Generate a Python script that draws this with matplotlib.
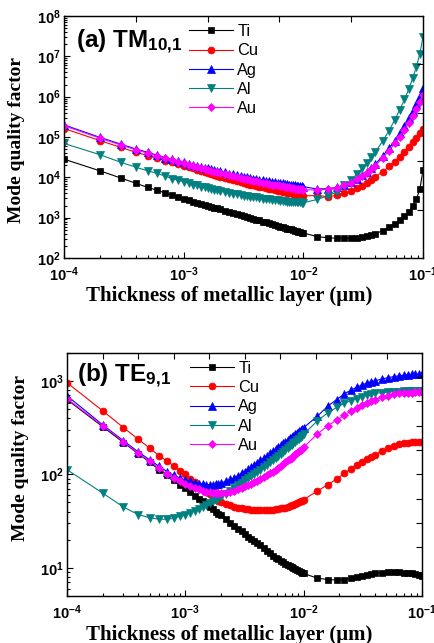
import matplotlib
matplotlib.use("Agg")
import matplotlib.pyplot as plt
import numpy as np
from matplotlib.ticker import FuncFormatter, NullFormatter, LogLocator

plt.rcParams['font.family'] = 'Liberation Sans'
plt.rcParams['mathtext.fontset'] = 'custom'
plt.rcParams['mathtext.rm'] = 'Liberation Sans'
plt.rcParams['mathtext.bf'] = 'Liberation Sans:bold'
plt.rcParams['mathtext.default'] = 'bf'

# thickness of the metallic layer (um), same sampling for both panels
thickness = [0.0001, 0.0002, 0.0003, 0.0004, 0.0005, 0.0006, 0.0007, 0.0008, 0.0009, 0.0010,
             0.0011, 0.0012, 0.0013, 0.0014, 0.0015, 0.0016, 0.0017, 0.0018, 0.0019, 0.0020,
             0.0022, 0.0024, 0.0026, 0.0028, 0.0030, 0.0032, 0.0034, 0.0036, 0.0038, 0.0040,
             0.0043, 0.0046, 0.0049, 0.0052, 0.0055, 0.0058, 0.0061, 0.0064, 0.0067, 0.0070,
             0.0073, 0.0076, 0.0079, 0.0082, 0.0085, 0.0088, 0.0091, 0.0094, 0.0097, 0.0100,
             0.013, 0.016, 0.019, 0.022, 0.025, 0.028, 0.031, 0.034, 0.037, 0.040,
             0.046, 0.052, 0.058, 0.064, 0.070, 0.076, 0.082, 0.088, 0.094, 0.100]

# log10 of the mode quality factor, (a) TM10,1
ti_tm = [4.45, 4.16, 3.98, 3.85, 3.75, 3.68, 3.61, 3.56, 3.51, 3.46,
         3.43, 3.39, 3.36, 3.34, 3.31, 3.29, 3.27, 3.25, 3.23, 3.21,
         3.17, 3.14, 3.11, 3.08, 3.06, 3.04, 3.01, 2.99, 2.97, 2.95,
         2.93, 2.90, 2.88, 2.86, 2.84, 2.82, 2.80, 2.78, 2.77, 2.75,
         2.73, 2.72, 2.71, 2.69, 2.68, 2.67, 2.65, 2.64, 2.63, 2.62,
         2.53, 2.50, 2.49, 2.49, 2.49, 2.50, 2.52, 2.54, 2.57, 2.60,
         2.68, 2.76, 2.84, 2.93, 3.03, 3.15, 3.29, 3.46, 3.70, 4.18]
cu_tm = [5.21, 4.91, 4.74, 4.62, 4.54, 4.47, 4.41, 4.37, 4.33, 4.29,
         4.25, 4.22, 4.18, 4.16, 4.13, 4.10, 4.08, 4.06, 4.04, 4.02,
         3.99, 3.96, 3.93, 3.91, 3.88, 3.86, 3.84, 3.82, 3.81, 3.79,
         3.77, 3.75, 3.73, 3.71, 3.70, 3.68, 3.67, 3.65, 3.64, 3.63,
         3.62, 3.61, 3.60, 3.59, 3.58, 3.57, 3.56, 3.56, 3.55, 3.54,
         3.55, 3.52, 3.55, 3.60, 3.67, 3.73, 3.79, 3.86, 3.94, 4.01,
         4.14, 4.27, 4.39, 4.51, 4.63, 4.75, 4.87, 4.98, 5.09, 5.20]
ag_tm = [5.30, 4.99, 4.82, 4.70, 4.62, 4.55, 4.49, 4.45, 4.41, 4.37,
         4.34, 4.31, 4.28, 4.26, 4.24, 4.22, 4.20, 4.18, 4.16, 4.15,
         4.12, 4.09, 4.07, 4.05, 4.03, 4.02, 4.00, 3.99, 3.97, 3.96,
         3.94, 3.93, 3.91, 3.90, 3.89, 3.88, 3.87, 3.86, 3.85, 3.84,
         3.83, 3.82, 3.81, 3.81, 3.80, 3.79, 3.79, 3.78, 3.78, 3.77,
         3.71, 3.72, 3.75, 3.82, 3.89, 3.97, 4.06, 4.14, 4.23, 4.33,
         4.53, 4.72, 4.91, 5.10, 5.28, 5.46, 5.65, 5.83, 6.01, 6.22]
al_tm = [4.84, 4.56, 4.37, 4.25, 4.16, 4.10, 4.03, 3.97, 3.93, 3.89,
         3.86, 3.82, 3.80, 3.77, 3.75, 3.73, 3.71, 3.69, 3.68, 3.66,
         3.64, 3.61, 3.59, 3.58, 3.56, 3.54, 3.53, 3.52, 3.51, 3.50,
         3.48, 3.47, 3.46, 3.45, 3.44, 3.43, 3.43, 3.42, 3.41, 3.41,
         3.40, 3.40, 3.39, 3.39, 3.39, 3.38, 3.38, 3.38, 3.37, 3.37,
         3.45, 3.54, 3.64, 3.80, 3.93, 4.08, 4.22, 4.36, 4.50, 4.63,
         4.90, 5.16, 5.42, 5.68, 5.93, 6.19, 6.46, 6.74, 7.06, 7.48]
au_tm = [5.28, 4.97, 4.80, 4.68, 4.60, 4.53, 4.47, 4.43, 4.39, 4.35,
         4.31, 4.28, 4.25, 4.23, 4.20, 4.18, 4.16, 4.14, 4.13, 4.11,
         4.08, 4.05, 4.03, 4.01, 3.99, 3.97, 3.95, 3.93, 3.92, 3.90,
         3.89, 3.87, 3.85, 3.84, 3.82, 3.81, 3.80, 3.79, 3.78, 3.77,
         3.76, 3.75, 3.74, 3.73, 3.72, 3.72, 3.71, 3.70, 3.70, 3.69,
         3.69, 3.70, 3.73, 3.80, 3.87, 3.95, 4.03, 4.11, 4.20, 4.29,
         4.48, 4.66, 4.84, 5.01, 5.18, 5.35, 5.52, 5.69, 5.86, 6.05]

# log10 of the mode quality factor, (b) TE9,1
ti_te = [2.80, 2.51, 2.34, 2.22, 2.13, 2.05, 1.99, 1.94, 1.89, 1.85,
         1.81, 1.77, 1.74, 1.71, 1.68, 1.65, 1.63, 1.60, 1.58, 1.56,
         1.52, 1.48, 1.45, 1.42, 1.39, 1.36, 1.33, 1.31, 1.29, 1.27,
         1.24, 1.21, 1.18, 1.16, 1.13, 1.11, 1.09, 1.07, 1.06, 1.04,
         1.03, 1.02, 1.01, 0.995, 0.985, 0.975, 0.965, 0.955, 0.945, 0.94,
         0.89, 0.875, 0.87, 0.875, 0.89, 0.905, 0.915, 0.925, 0.935, 0.94,
         0.95, 0.955, 0.955, 0.955, 0.95, 0.945, 0.94, 0.93, 0.92, 0.91]
cu_te = [2.98, 2.68, 2.50, 2.375, 2.28, 2.20, 2.14, 2.09, 2.04, 2.00,
         1.955, 1.915, 1.875, 1.84, 1.81, 1.785, 1.76, 1.74, 1.72, 1.705,
         1.685, 1.67, 1.655, 1.645, 1.635, 1.63, 1.625, 1.62, 1.62, 1.615,
         1.615, 1.615, 1.615, 1.62, 1.62, 1.625, 1.63, 1.635, 1.64, 1.645,
         1.655, 1.66, 1.67, 1.675, 1.685, 1.69, 1.70, 1.71, 1.72, 1.73,
         1.82, 1.89, 1.95, 2.01, 2.06, 2.10, 2.13, 2.16, 2.19, 2.21,
         2.25, 2.28, 2.30, 2.32, 2.33, 2.34, 2.345, 2.35, 2.35, 2.35]
ag_te = [2.84, 2.53, 2.36, 2.24, 2.155, 2.085, 2.03, 1.99, 1.96, 1.94,
         1.925, 1.91, 1.90, 1.895, 1.89, 1.89, 1.89, 1.895, 1.90, 1.91,
         1.925, 1.945, 1.965, 1.985, 2.01, 2.03, 2.055, 2.075, 2.10, 2.12,
         2.15, 2.175, 2.20, 2.225, 2.25, 2.27, 2.29, 2.31, 2.33, 2.35,
         2.37, 2.385, 2.40, 2.415, 2.43, 2.445, 2.46, 2.47, 2.485, 2.50,
         2.62, 2.73, 2.80, 2.86, 2.90, 2.93, 2.955, 2.975, 2.99, 3.00,
         3.02, 3.035, 3.045, 3.055, 3.06, 3.065, 3.07, 3.07, 3.07, 3.07]
al_te = [2.05, 1.80, 1.65, 1.57, 1.535, 1.52, 1.52, 1.53, 1.55, 1.57,
         1.59, 1.61, 1.63, 1.65, 1.67, 1.69, 1.71, 1.73, 1.745, 1.76,
         1.795, 1.825, 1.855, 1.885, 1.91, 1.935, 1.96, 1.98, 2.00, 2.02,
         2.05, 2.075, 2.10, 2.13, 2.155, 2.18, 2.20, 2.22, 2.24, 2.26,
         2.28, 2.30, 2.315, 2.33, 2.35, 2.365, 2.38, 2.395, 2.41, 2.43,
         2.57, 2.66, 2.715, 2.76, 2.785, 2.81, 2.83, 2.845, 2.855, 2.865,
         2.875, 2.88, 2.885, 2.885, 2.89, 2.89, 2.89, 2.89, 2.89, 2.89]
au_te = [2.81, 2.52, 2.35, 2.225, 2.14, 2.07, 2.00, 1.96, 1.93, 1.90,
         1.875, 1.855, 1.84, 1.825, 1.815, 1.81, 1.805, 1.80, 1.80, 1.80,
         1.805, 1.815, 1.825, 1.84, 1.855, 1.87, 1.885, 1.90, 1.915, 1.93,
         1.95, 1.97, 1.99, 2.01, 2.03, 2.05, 2.07, 2.09, 2.11, 2.13,
         2.15, 2.165, 2.18, 2.20, 2.215, 2.23, 2.245, 2.26, 2.275, 2.29,
         2.43, 2.52, 2.58, 2.63, 2.68, 2.71, 2.74, 2.765, 2.785, 2.80,
         2.825, 2.84, 2.855, 2.865, 2.87, 2.875, 2.875, 2.88, 2.88, 2.88]

metals = ['Ti', 'Cu', 'Ag', 'Al', 'Au']
colors = ['black', '#ff0000', '#0000ff', '#008080', '#ff00ff']
markers = ['s', 'o', '^', 'v', 'D']
msizes = [4.6, 5, 5.6, 5.6, 4.4]


def decade(v, pos):
    return r'$10^{%d}$' % round(np.log10(v))


fig = plt.figure(figsize=(4.34, 6.43), dpi=100)


def panel(rect, series, ylim, title, title_xy, leg_xy, top_ticks, right_ticks):
    ax = fig.add_axes(rect)
    for name, logq, c, m, ms in zip(metals, series, colors, markers, msizes):
        ax.plot(thickness, 10 ** np.array(logq), color=c, marker=m, ms=ms,
                lw=0.8, mew=0.5, label=name)
    ax.set_xscale('log')
    ax.set_yscale('log')
    ax.set_xlim(1e-4, 1e-1)
    ax.set_ylim(*ylim)
    ax.yaxis.set_major_locator(LogLocator(base=10, numticks=10))
    ax.yaxis.set_minor_locator(LogLocator(base=10, subs=np.arange(2, 10), numticks=10))
    for axis in (ax.xaxis, ax.yaxis):
        axis.set_major_formatter(FuncFormatter(decade))
        axis.set_minor_formatter(NullFormatter())
    ax.tick_params(which='both', direction='in', width=0.8, labelsize=10.5)
    ax.tick_params(axis='x', which='both', pad=5.5)
    ax.tick_params(axis='y', which='both', pad=2.5)
    ax.tick_params(which='major', length=4)
    ax.tick_params(which='minor', length=2.5)
    for s in ax.spines.values():
        s.set_linewidth(0.9)

    # linear ticks on the top and right frame, as in the original plot
    axt = ax.twiny()
    axt.set_xlim(0, 1)
    axt.set_xticks(top_ticks)
    axt.tick_params(direction='in', length=4, width=0.8, labeltop=False)
    axr = ax.twinx()
    axr.set_ylim(0, 1)
    axr.set_yticks(right_ticks)
    axr.tick_params(direction='in', length=4, width=0.8, labelright=False)

    ax.text(title_xy[0], title_xy[1], title, transform=ax.transAxes,
            fontsize=17.5, fontweight='bold', va='baseline')
    ax.legend(loc='upper left', bbox_to_anchor=leg_xy, frameon=False, fontsize=11.8,
              handlelength=2.7, handletextpad=0.25, labelspacing=0.26,
              borderpad=0, borderaxespad=0)
    return ax


panel([0.1475, 0.5988, 0.8272, 0.3763], [ti_tm, cu_tm, ag_tm, al_tm, au_tm],
      (1e2, 1e8), r'(a) TM$_{10{,}1}$', (0.033, 0.868), (0.348, 0.967),
      [0.2, 0.4, 0.6, 0.8], [0.2, 0.4, 0.6, 0.8])
panel([0.1544, 0.0731, 0.8180, 0.3784], [ti_te, cu_te, ag_te, al_te, au_te],
      (5, 2000), r'(b) TE$_{9{,}1}$', (0.028, 0.881), (0.346, 0.966),
      [0.1, 0.2, 0.3, 0.4, 0.5, 0.6, 0.7, 0.8, 0.9],
      [0.1, 0.2, 0.3, 0.4, 0.5, 0.6, 0.7, 0.8, 0.9])

label_font = dict(family='Liberation Serif', fontweight='bold')
fig.text(0.528, 0.5397, 'Thickness of metallic layer (\u03bcm)', ha='center', va='center',
         fontsize=15, **label_font)
fig.text(0.528, 0.0125, 'Thickness of metallic layer (\u03bcm)', ha='center', va='center',
         fontsize=15, **label_font)
fig.text(0.039, 0.7815, 'Mode quality factor', ha='center', va='center', rotation=90,
         fontsize=14, **label_font)
fig.text(0.048, 0.288, 'Mode quality factor', ha='center', va='center', rotation=90,
         fontsize=14, **label_font)

fig.savefig('out.png', dpi=100)
